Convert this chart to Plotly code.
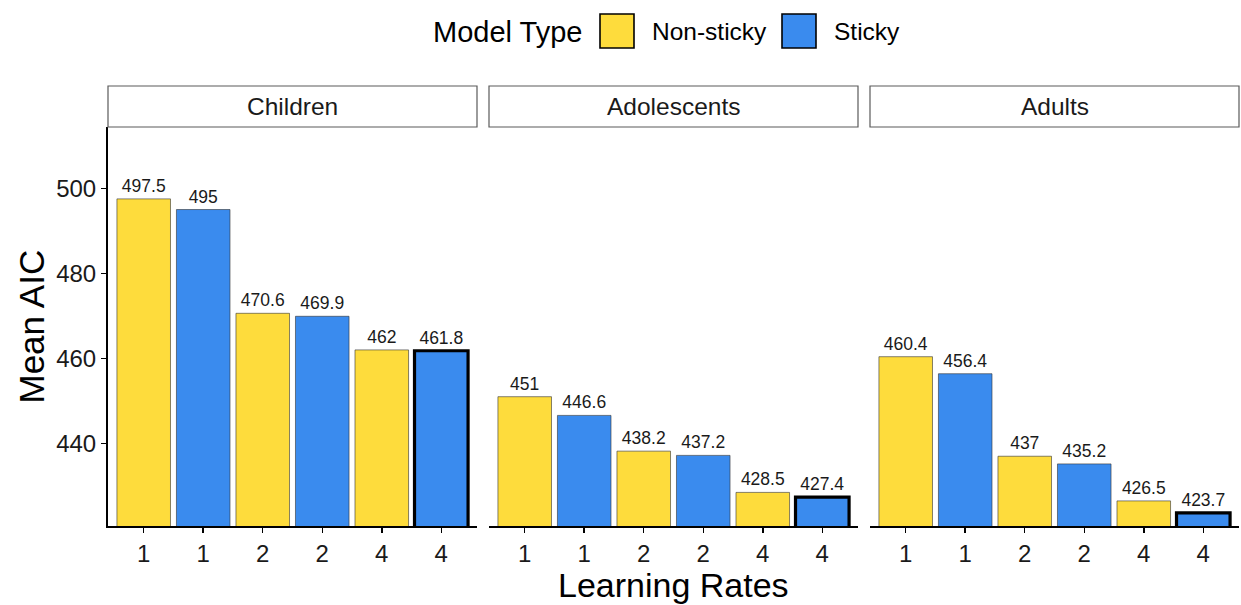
import plotly.graph_objects as go

# ---------------- data ----------------
groups = ["Children", "Adolescents", "Adults"]
rate_labels = ["1", "1", "2", "2", "4", "4"]
model_types = ["Non-sticky", "Sticky", "Non-sticky", "Sticky", "Non-sticky", "Sticky"]
children_aic = [497.5, 495, 470.6, 469.9, 462, 461.8]
adolescents_aic = [451, 446.6, 438.2, 437.2, 428.5, 427.4]
adults_aic = [460.4, 456.4, 437, 435.2, 426.5, 423.7]
best_model = [False, False, False, False, False, True]
y_ticks = [440, 460, 480, 500]

# ---------------- style ----------------
W, H = 1241, 605
colors = {"Non-sticky": "#FEDC3C", "Sticky": "#3A8BEE"}
FONT = "Liberation Sans, Arial, sans-serif"
panels_px = [(108, 477), (489, 858), (870, 1239)]
y_top_px, y_bot_px = 127, 526
strip_top_px = 86
yrange = [420.6, 514.4]


def px_x(p):
    return p / W


def px_y(p):
    return 1 - p / H


fig = go.Figure()
values = [children_aic, adolescents_aic, adults_aic]
xpos = list(range(len(rate_labels)))

for i, (g, vals) in enumerate(zip(groups, values)):
    suffix = "" if i == 0 else str(i + 1)
    fig.add_trace(go.Bar(
        x=xpos, y=vals,
        xaxis="x" + suffix, yaxis="y" + suffix,
        width=0.9,
        marker=dict(
            color=[colors[m] for m in model_types],
            line=dict(color=["#000000" if b else "#333333" for b in best_model],
                      width=[3.2 if b else 0.6 for b in best_model]),
        ),
        text=[f"{v:g}" for v in vals],
        textposition="outside",
        textfont=dict(size=17.5, color="#1a1a1a", family=FONT),
        constraintext="none",
        cliponaxis=False,
        showlegend=False,
        hoverinfo="skip",
    ))
    x0, x1 = panels_px[i]
    xa = dict(
        domain=[px_x(x0), px_x(x1)],
        range=[-0.6, 5.6],
        tickmode="array", tickvals=xpos, ticktext=rate_labels,
        showline=True, linecolor="black", linewidth=2,
        ticks="outside", ticklen=5, tickwidth=1.5, tickcolor="black",
        tickfont=dict(size=24, color="#1a1a1a", family=FONT),
        showgrid=False, zeroline=False, fixedrange=True,
        anchor="y" + suffix,
    )
    ya = dict(
        domain=[px_y(y_bot_px), px_y(y_top_px)],
        range=yrange,
        showgrid=False, zeroline=False, fixedrange=True,
        anchor="x" + suffix,
    )
    if i == 0:
        ya.update(showline=True, linecolor="black", linewidth=2,
                  ticks="outside", ticklen=5, tickwidth=1.5, tickcolor="black",
                  tickmode="array", tickvals=y_ticks,
                  tickfont=dict(size=24, color="#1a1a1a", family=FONT))
    else:
        ya.update(showline=False, showticklabels=False, ticks="")
        ya["matches"] = "y"
    fig.layout["xaxis" + suffix] = xa
    fig.layout["yaxis" + suffix] = ya

shapes = []
annotations = []
# strips
for i, g in enumerate(groups):
    x0, x1 = panels_px[i]
    shapes.append(dict(type="rect", xref="paper", yref="paper",
                       x0=px_x(x0), x1=px_x(x1), y0=px_y(y_top_px), y1=px_y(strip_top_px),
                       line=dict(color="#5a5a5a", width=1.2), fillcolor="white"))
    annotations.append(dict(text=g, xref="paper", yref="paper",
                            x=px_x((x0 + x1) / 2), y=px_y((y_top_px + strip_top_px) / 2),
                            xanchor="center", yanchor="middle", showarrow=False,
                            font=dict(size=24.5, color="#1a1a1a", family=FONT)))

# axis titles
annotations.append(dict(text="Mean AIC", xref="paper", yref="paper",
                        x=px_x(31), y=px_y((y_top_px + y_bot_px) / 2), textangle=-90,
                        xanchor="center", yanchor="middle", showarrow=False,
                        font=dict(size=35, color="black", family=FONT)))
annotations.append(dict(text="Learning Rates", xref="paper", yref="paper",
                        x=px_x((panels_px[0][0] + panels_px[2][1]) / 2), y=px_y(585),
                        xanchor="center", yanchor="middle", showarrow=False,
                        font=dict(size=34, color="black", family=FONT)))

# legend
annotations.append(dict(text="Model Type", xref="paper", yref="paper",
                        x=px_x(431), y=px_y(32), xanchor="left", yanchor="middle",
                        showarrow=False, font=dict(size=29, color="black", family=FONT)))
legend_items = [("Non-sticky", 600), ("Sticky", 782)]
for name, kx in legend_items:
    shapes.append(dict(type="rect", xref="paper", yref="paper",
                       x0=px_x(kx), x1=px_x(kx + 34), y0=px_y(48), y1=px_y(14),
                       line=dict(color="black", width=1.6), fillcolor=colors[name]))
    annotations.append(dict(text=name, xref="paper", yref="paper",
                            x=px_x(kx + 50), y=px_y(32), xanchor="left", yanchor="middle",
                            showarrow=False, font=dict(size=24.5, color="black", family=FONT)))

fig.update_layout(
    width=W, height=H,
    margin=dict(l=0, r=0, t=0, b=0),
    paper_bgcolor="white", plot_bgcolor="white",
    barmode="overlay",
    shapes=shapes, annotations=annotations,
    font=dict(family=FONT),
)

fig.write_html("out.html",
               config={"displayModeBar": False, "staticPlot": True},
               post_script="document.body.style.margin='0';document.body.style.padding='0';"
                           "document.body.style.overflow='hidden';")
